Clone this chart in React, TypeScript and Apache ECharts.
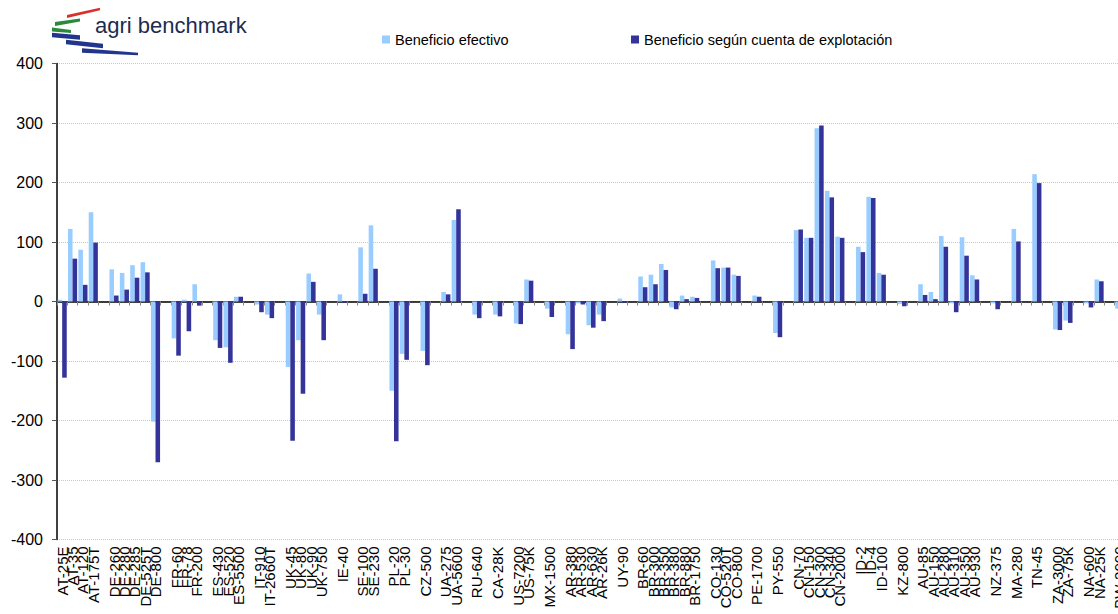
import React, { useEffect, useRef } from "react";
import * as echarts from "echarts";

const categories: string[] = [
  "AT-25E", "AT-35", "AT-120", "AT-175T", "",
  "DE-260", "DE-280", "DE-285", "DE-525T", "DE-800", "",
  "FR-60", "FR-78", "FR-200", "",
  "ES-430", "ES-520", "ES-5500", "",
  "IT-910", "IT-2660T", "",
  "UK-45", "UK-80", "UK-90", "UK-750", "",
  "IE-40", "",
  "SE-100", "SE-230", "",
  "PL-20", "PL-30", "",
  "CZ-500", "",
  "UA-275", "UA-5600", "",
  "RU-640", "",
  "CA-28K", "",
  "US-7200", "US-75K", "",
  "MX-1500", "",
  "AR-380", "AR-530", "AR-630", "AR-26K", "",
  "UY-90", "",
  "BR-60", "BR-300", "BR-350", "BR-380", "BR-880", "BR-1750", "",
  "CO-130", "CO-520T", "CO-800", "",
  "PE-1700", "",
  "PY-550", "",
  "CN-70", "CN-150", "CN-300", "CN-340", "CN-2000", "",
  "ID-2", "ID-4", "ID-100", "",
  "KZ-800", "",
  "AU-85", "AU-150", "AU-280", "AU-310", "AU-350", "AU-930", "",
  "NZ-375", "",
  "MA-280", "",
  "TN-45", "",
  "ZA-3000", "ZA-75K", "",
  "NA-600", "NA-25K", "",
  "BW-2000",
];

const beneficioEfectivo: (number | null)[] = [
  3, 122, 87, 150, null,
  54, 48, 61, 66, -202, null,
  -62, 3, 29, null,
  -65, -77, 8, null,
  -5, -22, null,
  -110, -65, 47, -22, null,
  12, null,
  91, 128, null,
  -150, -88, null,
  -83, null,
  16, 137, null,
  -22, null,
  -22, null,
  -37, 37, null,
  -12, null,
  -55, -3, -40, -22, null,
  5, null,
  42, 45, 63, -10, 10, 8, null,
  69, 57, 45, null,
  10, null,
  -53, null,
  120, 107, 291, 186, 109, null,
  92, 176, 48, null,
  -4, null,
  29, 16, 110, -3, 108, 44, null,
  -3, null,
  122, null,
  214, null,
  -47, -32, null,
  -3, 37, null,
  -12,
];

const beneficioCuenta: (number | null)[] = [
  -128, 72, 28, 99, null,
  10, 20, 40, 49, -270, null,
  -91, -50, -7, null,
  -78, -103, 8, null,
  -18, -28, null,
  -234, -155, 33, -65, null,
  -2, null,
  13, 55, null,
  -235, -98, null,
  -107, null,
  12, 155, null,
  -28, null,
  -25, null,
  -38, 35, null,
  -26, null,
  -80, -5, -44, -33, null,
  -2, null,
  24, 29, 53, -13, 4, 6, null,
  56, 57, 43, null,
  8, null,
  -60, null,
  121, 107, 296, 175, 107, null,
  83, 174, 45, null,
  -8, null,
  11, 4, 92, -18, 77, 37, null,
  -13, null,
  101, null,
  199, null,
  -48, -36, null,
  -10, 34, null,
  -20,
];

const yTicks = { min: -400, max: 400, interval: 100 };

const FONT = '"Liberation Sans", Arial, sans-serif';

function logoBar(x1: number, y1: number, x2: number, y2: number, t1: number, t2: number, color: string) {
  return {
    type: "polygon",
    shape: {
      points: [
        [x1, y1 - t1 / 2],
        [x2, y2 - t2 / 2],
        [x2, y2 + t2 / 2],
        [x1, y1 + t1 / 2],
      ],
    },
    style: { fill: color },
    silent: true,
  };
}

export default function App() {
  const ref = useRef<HTMLDivElement>(null);

  useEffect(() => {
    if (!ref.current) return;
    const chart = echarts.init(ref.current, undefined, { renderer: "svg" });
    const axisData = categories.map((c, i) => (c === "" ? `_gap${i}` : c));
    const labelFormatter = (v: string) => (v.startsWith("_gap") ? "" : v);

    chart.setOption({
      animation: false,
      textStyle: { fontFamily: FONT },
      grid: { left: 57, top: 63.5, width: 1068, height: 476, containLabel: false },
      legend: [
        {
          data: ["Beneficio efectivo"],
          left: 377,
          top: 27,
          itemWidth: 8,
          itemHeight: 8,
          icon: "rect",
          textStyle: { fontSize: 14.5, color: "#000", fontFamily: FONT },
        },
        {
          data: ["Beneficio según cuenta de explotación"],
          left: 626,
          top: 27,
          itemWidth: 8,
          itemHeight: 8,
          icon: "rect",
          textStyle: { fontSize: 14.5, color: "#000", fontFamily: FONT },
        },
      ],
      graphic: [
        logoBar(67, 16.5, 100, 9, 3, 2.5, "#d8302a"),
        logoBar(55, 24, 80, 20, 4, 3, "#2a8a3c"),
        logoBar(52, 29.5, 71, 31.5, 4, 3, "#2a8a3c"),
        logoBar(52, 35, 80, 37.5, 4.5, 4.5, "#22358c"),
        logoBar(66, 42, 103, 46, 4.5, 4.5, "#22358c"),
        logoBar(82, 50.5, 138, 54, 4.5, 2.5, "#22358c"),
        {
          type: "text",
          x: 95,
          y: 25,
          silent: true,
          style: {
            text: "agri benchmark",
            font: `22px ${FONT}`,
            fill: "#1d2b4f",
            verticalAlign: "middle",
            textVerticalAlign: "middle",
          },
        },
      ],
      xAxis: [
        {
          type: "category",
          data: axisData,
          position: "bottom",
          axisLine: { show: false, onZero: false },
          axisTick: { show: false },
          splitLine: { show: false },
          axisLabel: {
            interval: 0,
            rotate: 90,
            fontSize: 15,
            color: "#000",
            fontFamily: FONT,
            margin: 7,
            formatter: labelFormatter,
          },
        },
        {
          type: "category",
          data: axisData,
          position: "bottom",
          axisLine: { show: true, onZero: true, lineStyle: { color: "#000", width: 1.5 } },
          axisTick: { show: true, length: 4, interval: 0, lineStyle: { color: "#888" } },
          axisLabel: { show: false },
          splitLine: { show: false },
        },
      ],
      yAxis: {
        type: "value",
        min: yTicks.min,
        max: yTicks.max,
        interval: yTicks.interval,
        axisLine: { show: true, lineStyle: { color: "#000", width: 1.5 } },
        axisTick: { show: true, length: 5, lineStyle: { color: "#555" } },
        axisLabel: { fontSize: 16, color: "#000", margin: 14, fontFamily: FONT },
        splitLine: { show: true, lineStyle: { type: "dotted", color: "#c8c8c8", width: 1 } },
      },
      series: [
        {
          name: "Beneficio efectivo",
          type: "bar",
          xAxisIndex: 0,
          data: beneficioEfectivo,
          itemStyle: { color: "#99ccff" },
          barGap: "0%",
          barCategoryGap: "12%",
        },
        {
          name: "Beneficio según cuenta de explotación",
          type: "bar",
          xAxisIndex: 0,
          data: beneficioCuenta,
          itemStyle: { color: "#333399" },
          barGap: "0%",
          barCategoryGap: "12%",
        },
      ],
    });
    return () => chart.dispose();
  }, []);

  return (
    <div
      style={{
        position: "fixed",
        left: 0,
        top: 0,
        width: 1118,
        height: 614,
        overflow: "hidden",
        background: "#fff",
      }}
    >
      <div ref={ref} style={{ width: 1140, height: 614 }} />
    </div>
  );
}
